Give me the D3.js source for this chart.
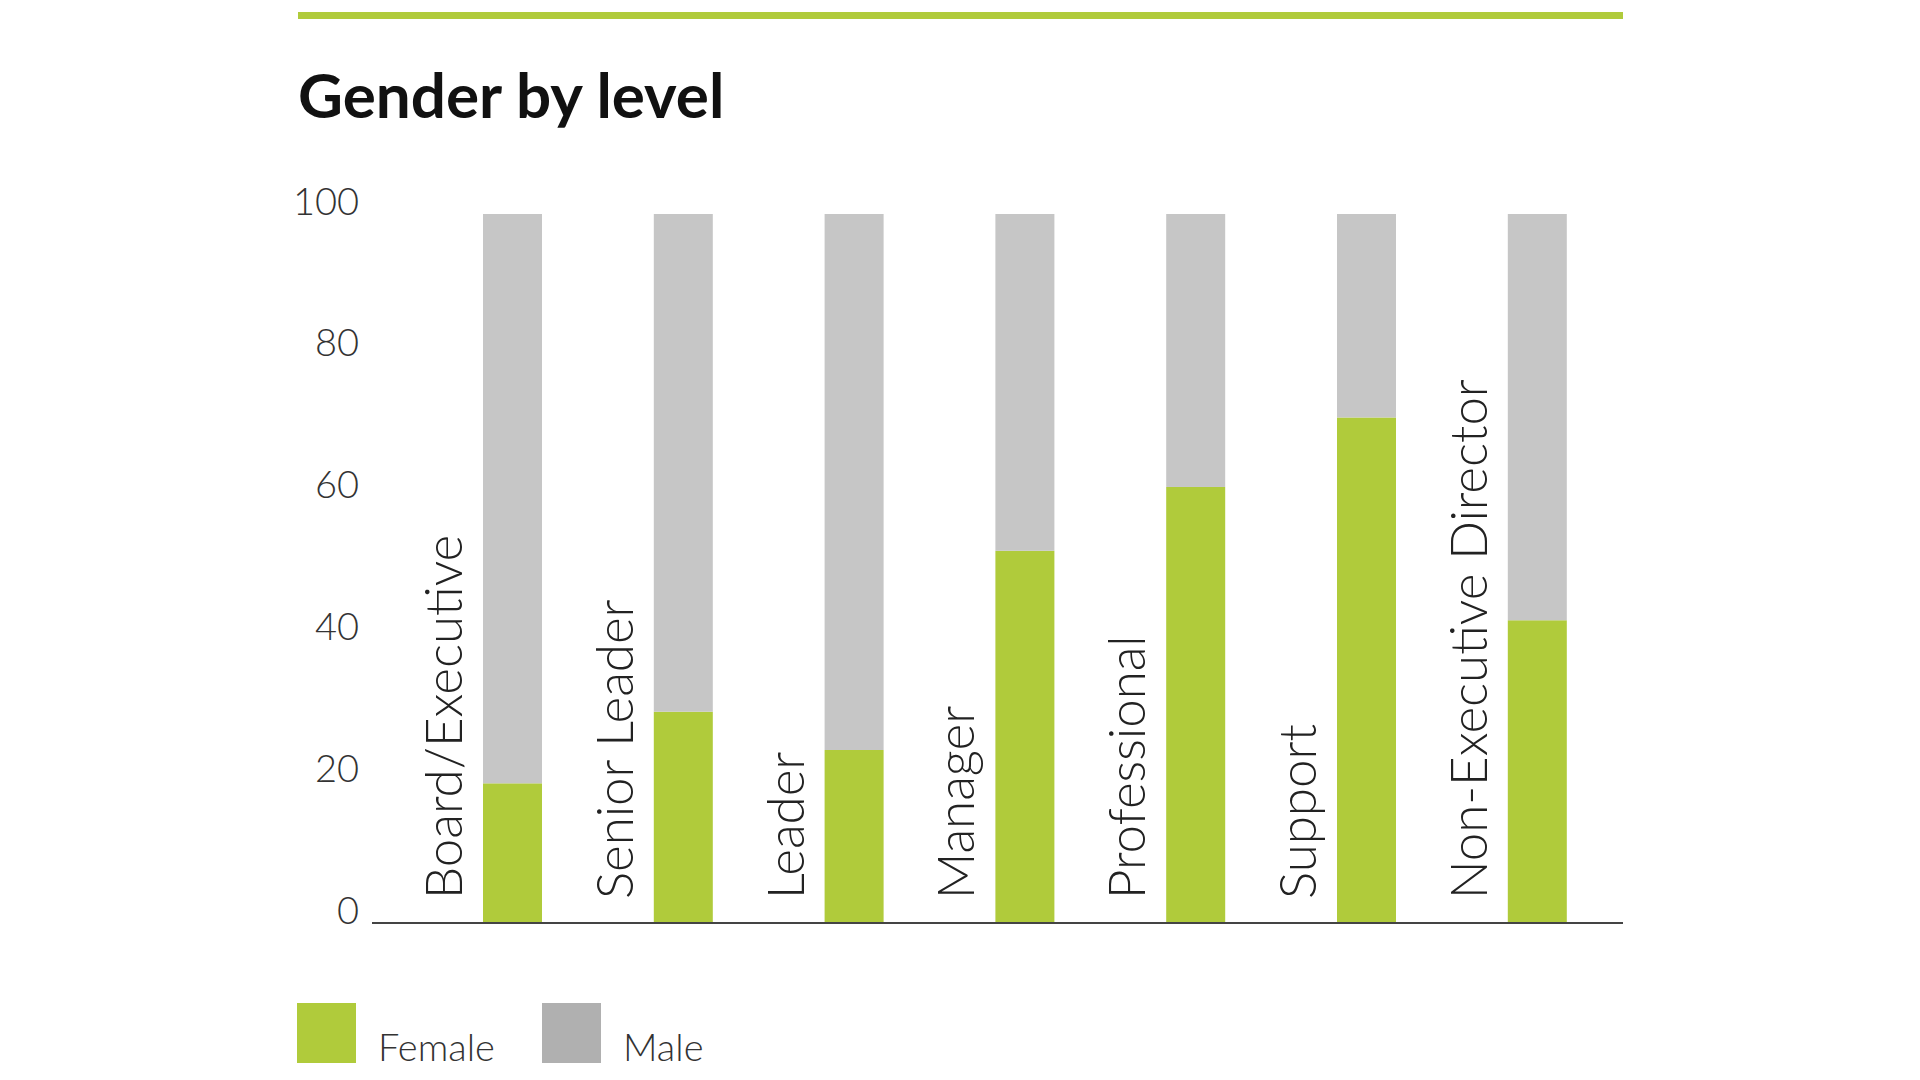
<!DOCTYPE html>
<html>
<head>
<meta charset="utf-8">
<script src="https://cdn.jsdelivr.net/npm/d3@7"></script>
<style>
  html, body { margin: 0; padding: 0; background: #fff; }
  svg { display: block; }
  text { font-family: Lato, "Noto Sans", sans-serif; fill: #222; }
</style>
</head>
<body>
<svg id="chart"></svg>
<script>
const categories = ["Board/Executive", "Senior Leader", "Leader", "Manager", "Professional", "Support", "Non-Executive Director"]
const female = [19.7, 29.8, 24.4, 52.5, 61.5, 71.3, 42.7]
const male = female.map((f) => 100 - f)
const yTicks = [0, 20, 40, 60, 80, 100]
const seriesNames = ["Female", "Male"]

const green = "#b0cb3b"
const grey = "#c6c6c6"
const legendGrey = "#b0b0b0"

const svgWidth = 1920
const svgHeight = 1080

const svg = d3.select("#chart").attr("width", svgWidth).attr("height", svgHeight)

// top rule
svg.append("rect").attr("x", 298).attr("y", 12).attr("width", 1325).attr("height", 7).attr("fill", green)

svg.append("text")
  .attr("x", 298)
  .attr("y", 118)
  .style("font-size", "62px")
  .style("font-weight", 700)
  .style("fill", "#111")
  .text("Gender by level")

const y = d3.scaleLinear().domain([0, 100]).range([923, 214])

const step = 170.8
const barW = 59
const x = d3.scaleBand()
  .domain(categories)
  .range([483, 483 + step * (categories.length - 1) + barW])
  .paddingInner(1 - barW / step)
  .paddingOuter(0)

const rows = categories.map((c, i) => ({ level: c, Female: female[i], Male: male[i] }))
const stack = d3.stack().keys(seriesNames)(rows)
const color = d3.scaleOrdinal().domain(seriesNames).range([green, grey])

svg.append("g")
  .selectAll("g")
  .data(stack)
  .join("g")
  .attr("fill", (s) => color(s.key))
  .selectAll("rect")
  .data((s) => s)
  .join("rect")
  .attr("x", (d) => x(d.data.level))
  .attr("width", x.bandwidth())
  .attr("y", (d) => y(d[1]))
  .attr("height", (d) => y(d[0]) - y(d[1]))

// y axis labels, baseline sits on the tick value
const yAxis = svg.append("g")
  .attr("transform", "translate(359,0)")
  .call(d3.axisLeft(y).tickValues(yTicks).tickSize(0).tickPadding(0))
yAxis.select(".domain").remove()
yAxis.selectAll("text")
  .attr("dy", "0")
  .style("font-family", "Lato, 'Noto Sans', sans-serif")
  .style("font-size", "38px")
  .style("font-weight", 300)
  .style("fill", "#333")

// baseline
svg.append("line")
  .attr("x1", 372).attr("x2", 1623)
  .attr("y1", y(0)).attr("y2", y(0))
  .attr("stroke", "#444")
  .attr("stroke-width", 2)

// rotated category labels left of each bar
svg.append("g")
  .selectAll("text")
  .data(categories)
  .join("text")
  .attr("transform", (d) => `translate(${x(d) - 21},${y(0) - 24}) rotate(-90)`)
  .style("font-size", "51px")
  .style("font-weight", 300)
  .style("fill", "#222")
  .text((d) => d)

// legend
const legend = svg.append("g")
  .selectAll("g")
  .data(seriesNames)
  .join("g")
  .attr("transform", (d, i) => `translate(${297 + i * 245},1003)`)
legend.append("rect")
  .attr("width", 59)
  .attr("height", 60)
  .attr("fill", (d, i) => (i === 0 ? green : legendGrey))
legend.append("text")
  .attr("x", 81)
  .attr("y", 58)
  .style("font-size", "38px")
  .style("font-weight", 300)
  .style("fill", "#333")
  .text((d) => d)
</script>
</body>
</html>
